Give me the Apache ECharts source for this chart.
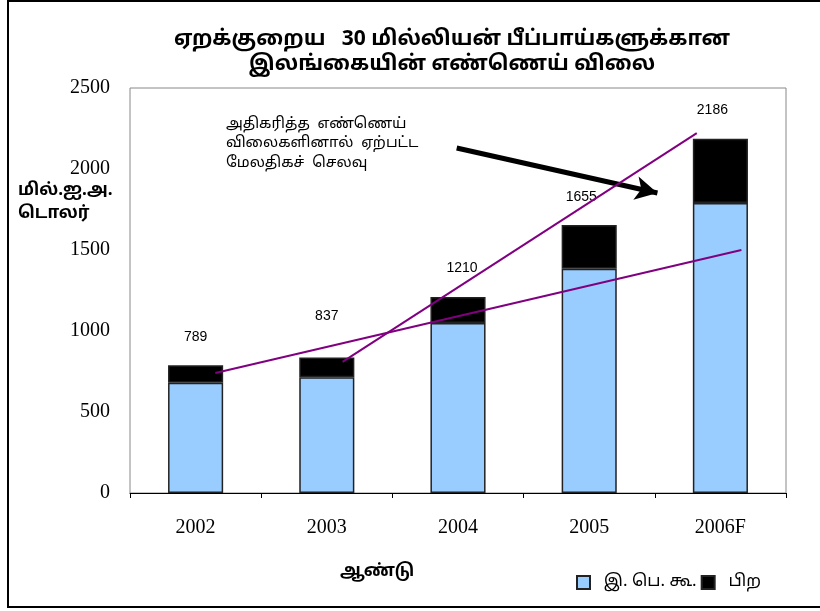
<!DOCTYPE html>
<html>
<head>
<meta charset="utf-8">
<script src="https://cdn.jsdelivr.net/npm/echarts@6/dist/echarts.min.js"></script>
<style>
  html, body { margin: 0; padding: 0; background: #fff; }
  #chart { width: 820px; height: 611px; }
</style>
</head>
<body>
<div id="chart"></div>
<script>
// ── DATA ───────────────────────────────────────────
const years = ['2002', '2003', '2004', '2005', '2006F'];
const petroleum = [680, 715, 1050, 1385, 1790];   // இ. பெ. கூ.
const others = [109, 122, 160, 270, 396];         // பிற
const totals = [789, 837, 1210, 1655, 2186];
const yTicks = [0, 500, 1000, 1500, 2000, 2500];

// trend lines, x given as category index
const trendLow = [[0.15, 741], [4.16, 1500]];
const trendHigh = [[1.12, 809], [3.82, 2222]];
const arrowLine = [[1.99, 2130], [3.52, 1852]];

const tamil = "'Noto Sans Tamil', 'Latha', 'Noto Sans', 'DejaVu Sans', sans-serif";
const serif = "'Liberation Serif', 'DejaVu Serif', serif";

// label distance above each bar (837 sits higher in the source)
const labelDist = [21, 34, 22, 21, 22];
const labelShift = [0, 0, 4, -8, -8];

const chart = echarts.init(document.getElementById('chart'));

chart.setOption({
  backgroundColor: '#fff',
  animation: false,
  grid: {
    left: 130, right: 34, top: 88, bottom: 118,
    show: true, borderColor: '#888', borderWidth: 1, backgroundColor: 'transparent'
  },
  legend: {
    left: 571, top: 569,
    icon: 'rect', itemWidth: 13, itemHeight: 13, itemGap: 4,
    textStyle: { fontFamily: tamil, fontSize: 17, color: '#000' },
    formatter: name => '  ' + name,
    data: ['இ. பெ. கூ.', 'பிற']
  },
  xAxis: [
    {
      type: 'category', data: years,
      axisLine: { lineStyle: { color: '#000', width: 1 } },
      axisTick: { show: true, length: 5, lineStyle: { color: '#000' } },
      axisLabel: { fontFamily: serif, fontSize: 20, color: '#000', margin: 25 }
    },
    { type: 'value', min: -0.5, max: 4.5, show: false }
  ],
  yAxis: {
    type: 'value', min: 0, max: 2500, interval: 500,
    axisLine: { show: false },
    axisTick: { show: false },
    splitLine: { show: false },
    axisLabel: {
      fontFamily: serif, fontSize: 20, color: '#000', margin: 20,
      formatter: v => yTicks.includes(v) ? String(v) : ''
    }
  },
  series: [
    {
      name: 'இ. பெ. கூ.', type: 'bar', stack: 'total', barWidth: '42%',
      data: petroleum,
      itemStyle: { color: '#99CCFF', borderColor: '#222', borderWidth: 1.5 }
    },
    {
      name: 'பிற', type: 'bar', stack: 'total',
      data: others.map((v, i) => ({
        value: v,
        label: { distance: labelDist[i], offset: [labelShift[i], 0] }
      })),
      itemStyle: { color: '#000', borderColor: '#222', borderWidth: 1.5 },
      label: {
        show: true, position: 'top',
        fontFamily: 'Liberation Sans, Arial, sans-serif', fontSize: 14, color: '#000',
        formatter: p => String(totals[p.dataIndex])
      }
    },
    {
      type: 'line', xAxisIndex: 1, data: trendLow, symbol: 'none',
      lineStyle: { color: '#800080', width: 2 }, z: 5
    },
    {
      type: 'line', xAxisIndex: 1, data: trendHigh, symbol: 'none',
      lineStyle: { color: '#800080', width: 2 }, z: 5
    },
    {
      type: 'line', xAxisIndex: 1, data: [], symbol: 'none',
      markLine: {
        silent: true, symbol: ['none', 'arrow'], symbolSize: [18, 22],
        label: { show: false },
        lineStyle: { color: '#000', width: 5, type: 'solid' },
        data: [[{ coord: arrowLine[0] }, { coord: arrowLine[1] }]]
      }, z: 6
    }
  ],
  graphic: [
    {
      type: 'rect', silent: true, z: -1,
      shape: { x: 8, y: 1, width: 830, height: 606 },
      style: { fill: 'none', stroke: '#000', lineWidth: 2 }
    },
    {
      type: 'text', x: 452, y: 28, silent: true,
      style: {
        text: 'ஏறக்குறைய   30 மில்லியன் பீப்பாய்களுக்கான\nஇலங்கையின் எண்ணெய் விலை',
        textAlign: 'center', font: "bold 21px " + tamil, fill: '#000', lineHeight: 25
      }
    },
    {
      type: 'text', left: 18, top: 180, silent: true,
      style: {
        text: 'மில்.ஐ.அ.\nடொலர்', font: "bold 17px " + tamil, fill: '#000', lineHeight: 23
      }
    },
    {
      type: 'text', left: 340, top: 564, silent: true,
      style: { text: 'ஆண்டு', font: "bold 17px " + tamil, fill: '#000' }
    },
    {
      type: 'text', left: 226, top: 115, silent: true,
      style: {
        text: 'அதிகரித்த  எண்ணெய்\nவிலைகளினால்  ஏற்பட்ட\nமேலதிகச்  செலவு',
        font: "15px " + tamil, fill: '#000', lineHeight: 19.5
      }
    }
  ]
});
</script>
</body>
</html>
